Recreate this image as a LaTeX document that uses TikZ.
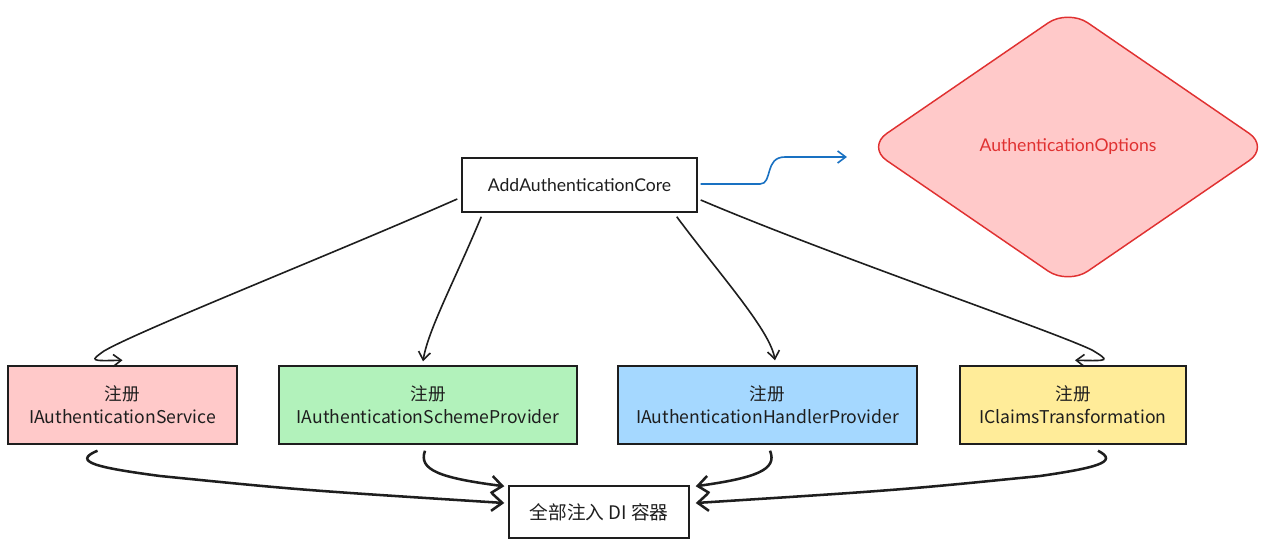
\documentclass[tikz,border=0pt]{standalone}
\usepackage{fontspec}
\setmainfont{Lato}
\newfontfamily\cjk{Noto Sans CJK SC}
\usetikzlibrary{shapes.geometric,arrows.meta,calc}
\definecolor{ink}{HTML}{1E1E1E}
\definecolor{redfill}{HTML}{FFC9C9}
\definecolor{redline}{HTML}{E03131}
\definecolor{greenfill}{HTML}{B2F2BB}
\definecolor{bluefill}{HTML}{A5D8FF}
\definecolor{yellowfill}{HTML}{FFEC99}
\definecolor{bluearrow}{HTML}{1971C2}
\tikzset{
  box/.style={draw=ink, line width=1.1pt, minimum height=58.5pt, inner sep=0pt, align=center, font=\cjk\fontsize{13.2}{17.5}\selectfont, text=ink},
  plainbox/.style={draw=ink, line width=1.1pt, inner sep=0pt, text=ink},
  conn/.style={draw=ink, line width=1.2pt, -{Straight Barb[length=6pt,width=9pt]}},
  bold conn/.style={draw=ink, line width=1.9pt, -{Straight Barb[length=8pt,width=13pt]}},
}
\begin{document}
\begin{tikzpicture}[x=0.75pt,y=-0.75pt]
\useasboundingbox[fill=white] (0,0) rectangle (1280,548);
\node[plainbox, minimum width=176.25pt, minimum height=40.5pt, font=\fontsize{13.2}{15}\selectfont] (top) at (579.5,185) {AddAuthenticationCore};
\node[diamond, draw=redline, fill=redfill, line width=1.1pt, rounded corners=18pt, minimum width=302pt, minimum height=207pt, inner sep=0pt, text=redline, font=\fontsize{13.2}{15}\selectfont] (opt) at (1068,147) {AuthenticationOptions};
\node[box, fill=redfill, minimum width=171.75pt] (red) at (122.5,405) {注册\\IAuthenticationService};
\node[box, fill=greenfill, minimum width=223.5pt] (green) at (428,405) {注册\\IAuthenticationSchemeProvider};
\node[box, fill=bluefill, minimum width=224.25pt] (blue) at (767.5,405) {注册\\IAuthenticationHandlerProvider};
\node[box, fill=yellowfill, minimum width=169.5pt] (yellow) at (1073,405) {注册\\IClaimsTransformation};
\node[plainbox, minimum width=135pt, minimum height=39pt, font=\cjk\fontsize{14}{16}\selectfont] (bottom) at (599,512) {全部注入 DI 容器};
% blue arrow to options
\coordinate (optend) at ($(opt.west)+(-19,10)$);
\draw[line width=1.2pt, draw=bluearrow, -{Straight Barb[length=6pt,width=9pt]}]
  ($(top.east)+(3,-1)$) -- (760,184) .. controls (773,184) and (764,157) .. (785,157) -- (optend);
% top arrows
\draw[conn] ($(top.west)+(-4,14)$) .. controls (330,255) and (140,330) .. (104,351) .. controls (90,361) .. ($(red.north)+(0,-5)$);
\draw[conn] ($(top.south west)+(20,4)$) .. controls (455,280) and (428,330) .. ($(green.north)+(-5,-4)$);
\draw[conn] ($(top.south east)+(-21,4)$) .. controls (720,275) and (770,330) .. ($(blue.north)+(7.5,-5)$);
\draw[conn] ($(top.east)+(3,15)$) .. controls (830,255) and (1050,330) .. (1092,350) .. controls (1110,361) .. ($(yellow.north)+(2,-5)$);
% bottom arrows
\draw[bold conn] ($(red.south)+(-25,6)$) .. controls (70,462) and (100,468) .. (160,476) .. controls (300,490) .. ($(bottom.west)+(-4,-9)$);
\draw[bold conn] ($(green.south)+(-3,6)$) .. controls (418,470) and (440,478) .. ($(bottom.north west)+(-4,1)$);
\draw[bold conn] ($(blue.south)+(2.5,6)$) .. controls (778,470) and (755,478) .. ($(bottom.north east)+(6,1)$);
\draw[bold conn] ($(yellow.south)+(25,6)$) .. controls (1120,462) and (1095,468) .. (1040,476) .. controls (900,490) .. ($(bottom.east)+(6,-9)$);
\end{tikzpicture}
\end{document}
